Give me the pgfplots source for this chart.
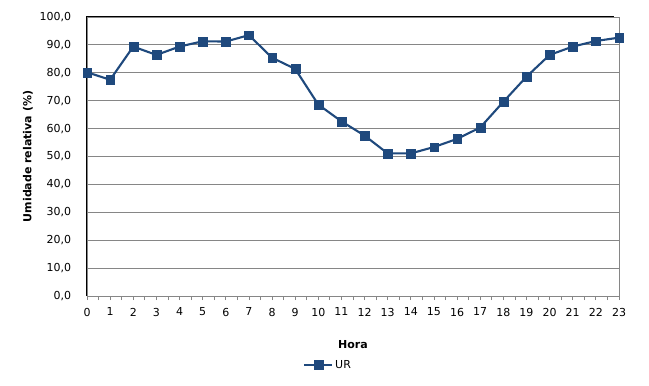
\documentclass[border=0pt]{standalone}
\usepackage{pgfplots}
\pgfplotsset{compat=1.18}
\usepackage{fontspec}
\setmainfont{DejaVu Sans}
\definecolor{ser}{RGB}{31,73,125}
\definecolor{gridc}{RGB}{134,134,134}
\begin{document}
\fontsize{11bp}{13bp}\selectfont
\begin{tikzpicture}
\useasboundingbox (-87bp,-90bp) rectangle (562bp,296bp);
\begin{axis}[
  scale only axis,
  width=532bp, height=279bp,
  anchor=south west, at={(0,0)},
  xmin=0, xmax=23, ymin=0, ymax=100,
  xtick={0,...,23},
  minor x tick num=1,
  ytick={0,10,...,100},
  ymajorgrids,
  grid style={gridc, line width=0.9bp},
  axis line style={gridc, line width=0.9bp},
  tick align=outside,
  xtick pos=bottom,
  ytick pos=left,
  x tick style={gridc, line width=0.8bp},
  y tick style={draw=none},
  major tick length=4bp,
  minor tick length=4bp,
  yticklabel style={xshift=-8bp, /pgf/number format/.cd, fixed, fixed zerofill, precision=1, use comma},
  xticklabel style={yshift=-4bp},
  /pgf/number format/assume math mode=true,
  ticklabel style={font=\fontsize{11bp}{13bp}\selectfont},
  xlabel={\textbf{Hora}},
  ylabel={\textbf{Umidade relativa (\%)}},
  label style={font=\fontsize{11bp}{13bp}\selectfont},
  xlabel style={at={(axis description cs:0.5,-0.1756)}, anchor=center},
  ylabel style={at={(axis description cs:-0.1109,0.5)}, anchor=center},
  legend style={at={(axis description cs:0.453,-0.247)}, anchor=center, draw=none, fill=none, legend columns=-1, font=\fontsize{11bp}{13bp}\selectfont, /tikz/every even column/.append style={column sep=2bp}},
  legend image code/.code={\draw[#1, mark repeat=2, mark phase=2] plot coordinates {(0bp,0bp) (14bp,0bp) (28bp,0bp)};},
  clip=false,
]
\addplot[ser, line width=2.1bp, mark=square*, mark size=4.4bp, mark options={solid, fill=ser, draw=ser, line width=0.1bp}] coordinates {
(0,80.2) (1,77.5) (2,89.4) (3,86.4) (4,89.4) (5,91.3) (6,91.2) (7,93.5)
(8,85.4) (9,81.4) (10,68.6) (11,62.6) (12,57.5) (13,51.1) (14,51.1) (15,53.4)
(16,56.3) (17,60.4) (18,69.6) (19,78.6) (20,86.4) (21,89.4) (22,91.4) (23,92.6)
};
\addlegendentry{UR}
\draw[black, line width=1bp] (rel axis cs:0,0) -- (rel axis cs:0,1) -- (rel axis cs:0.99,1);
\end{axis}
\end{tikzpicture}
\end{document}
